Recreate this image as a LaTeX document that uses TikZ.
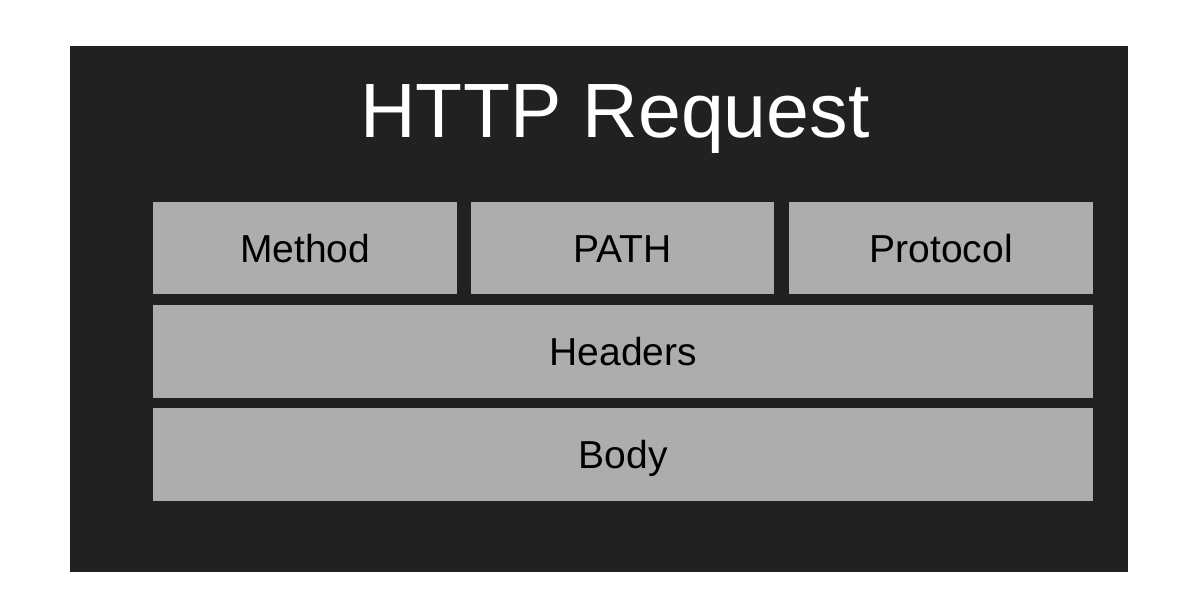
\documentclass[tikz,border=0pt]{standalone}
\usepackage{fontspec}
\setmainfont{Liberation Sans}
\definecolor{panel}{HTML}{212121}
\definecolor{cell}{HTML}{ADADAD}
\begin{document}
\begin{tikzpicture}[x=1pt,y=-1pt,
  cellbox/.style={fill=cell, draw=none, inner sep=0pt, anchor=north west,
    font=\fontsize{39}{44}\selectfont, text=black, text height=28pt, text depth=0pt},
  titletext/.style={font=\fontsize{77}{84}\selectfont, text=white, inner sep=0pt, anchor=base}]
\useasboundingbox (0,0) rectangle (1200,614);
\fill[white] (0,0) rectangle (1200,614);
\node[fill=panel, inner sep=0pt, anchor=north west, minimum width=1058pt, minimum height=526pt] (panel) at (70,46) {};
\node[titletext] (title) at (615,137) {HTTP Request};
\node[cellbox, minimum width=304pt, minimum height=92pt] (method) at (153,202) {Method};
\node[cellbox, minimum width=303pt, minimum height=92pt] (path) at (471,202) {PATH};
\node[cellbox, minimum width=304pt, minimum height=92pt] (protocol) at (789,202) {Protocol};
\node[cellbox, minimum width=940pt, minimum height=93pt] (headers) at (153,305) {Headers};
\node[cellbox, minimum width=940pt, minimum height=93pt] (body) at (153,408) {Body};
\end{tikzpicture}
\end{document}
